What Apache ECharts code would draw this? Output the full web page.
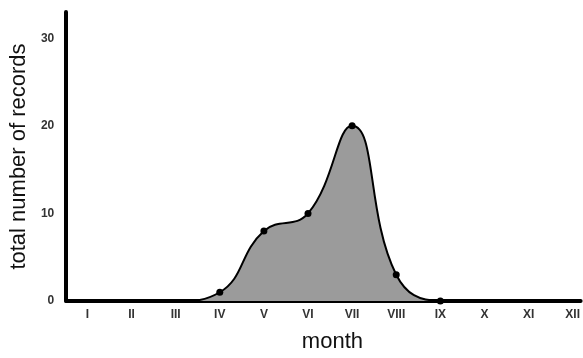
<!DOCTYPE html>
<html>
<head>
<meta charset="utf-8">
<script src="https://cdn.jsdelivr.net/npm/echarts@6/dist/echarts.min.js"></script>
<style>
  html, body { margin: 0; padding: 0; background: #fff; }
  #chart { width: 583px; height: 358px; }
</style>
</head>
<body>
<div id="chart"></div>
<script>
// 月份 (罗马数字)
var monthLabels = ['I', 'II', 'III', 'IV', 'V', 'VI', 'VII', 'VIII', 'IX', 'X', 'XI', 'XII'];
var monthIndex = [1, 2, 3, 4, 5, 6, 7, 8, 9, 10, 11, 12];
var records = [0, 0, 0, 1, 8, 10, 20, 3, 0, 0, 0, 0];
// 只在这些月份画点
var markedMonths = [4, 5, 6, 7, 8, 9];
var yTicks = [0, 10, 20, 30];

var font = 'Liberation Sans, Arial, sans-serif';
var chart = echarts.init(document.getElementById('chart'));

var lineData = monthIndex.map(function (m, i) {
  return {
    value: [m, records[i]],
    symbolSize: markedMonths.indexOf(m) >= 0 ? 7 : 0
  };
});

var option = {
  animation: false,
  grid: { left: 64, right: 0, top: 12, bottom: 52 },
  xAxis: {
    type: 'value',
    min: 0.52,
    max: 12.18,
    name: 'month',
    nameLocation: 'middle',
    nameGap: 30,
    nameTextStyle: { fontFamily: font, fontSize: 22, color: '#111', padding: [0, 0, 0, 18] },
    axisLine: { show: true, onZero: false, lineStyle: { color: '#000', width: 4 } },
    axisTick: { show: false },
    splitLine: { show: false },
    axisLabel: {
      customValues: monthIndex,
      margin: 8,
      fontFamily: font,
      fontSize: 12,
      fontWeight: 'bold',
      color: '#333',
      formatter: function (v) { return monthLabels[Math.round(v) - 1]; }
    }
  },
  yAxis: {
    type: 'value',
    min: 0,
    max: 33,
    name: 'total number of records',
    nameLocation: 'middle',
    nameGap: 30,
    nameTextStyle: { fontFamily: font, fontSize: 22, color: '#111' },
    axisLine: { show: true, lineStyle: { color: '#000', width: 4 } },
    axisTick: { show: false },
    splitLine: { show: false },
    axisLabel: {
      customValues: yTicks,
      margin: 12,
      fontFamily: font,
      fontSize: 12,
      fontWeight: 'bold',
      color: '#333'
    }
  },
  series: [{
    type: 'line',
    smooth: 0.45,
    data: lineData,
    symbol: 'circle',
    itemStyle: { color: '#000' },
    lineStyle: { color: '#000', width: 2 },
    areaStyle: { color: '#9b9b9b', opacity: 1 },
    z: 1
  }]
};
chart.setOption(option);
</script>
</body>
</html>
